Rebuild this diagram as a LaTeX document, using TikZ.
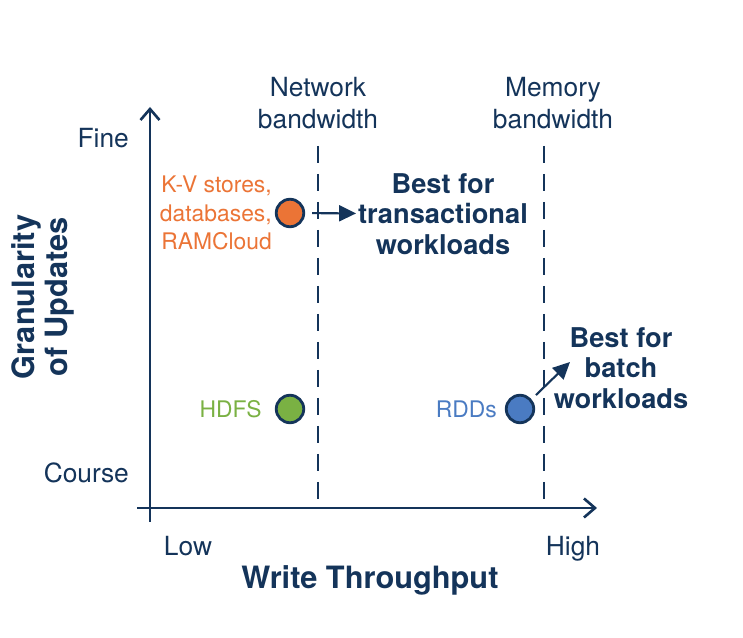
\documentclass[tikz,border=0pt]{standalone}
\usepackage{fontspec}
\setmainfont{TeX Gyre Heros}
\usetikzlibrary{arrows.meta,positioning}
\definecolor{AxisNavy}{HTML}{14345A}
\definecolor{KvOrange}{HTML}{EB7436}
\definecolor{HdfsGreen}{HTML}{7AB143}
\definecolor{RddBlue}{HTML}{4A7BC2}

\begin{document}
\begin{tikzpicture}[
        node distance=0.2cm,
        axis/.style={line width=1.5pt,draw=AxisNavy,-{Straight Barb[length=2.2mm,width=3.8mm]}},
        bound/.style={line width=1.4pt,draw=AxisNavy,dash pattern=on 3.4mm off 2.2mm},
        dot/.style={circle,draw=AxisNavy,line width=1.6pt,minimum size=0.55cm,inner sep=0pt},
        tick/.style={text=AxisNavy,font=\fontsize{15}{18}\selectfont,inner sep=1pt},
        note/.style={text=AxisNavy,font=\fontsize{15.5}{17.5}\selectfont\bfseries,align=center,inner sep=1pt},
        lbl/.style={font=\fontsize{13}{16}\selectfont,align=right,inner sep=1pt},
        callout/.style={line width=1.2pt,draw=AxisNavy,-{Triangle[length=3.4mm,width=3.2mm]}}
      ]
        \useasboundingbox (0,0) rectangle (14.86,12.76);
        % axes
        \coordinate (ybot) at (3.0,2.32);
        \coordinate (ytop) at (3.0,10.62);
        \coordinate (xleft) at (2.74,2.6);
        \coordinate (xright) at (11.94,2.6);
        \draw[axis] (ybot)--(ytop);
        \draw[axis] (xleft)--(xright);
        % bandwidth limits
        \coordinate (nettop) at (6.36,9.84);
        \coordinate (netbot) at (6.36,2.6);
        \coordinate (memtop) at (10.88,9.84);
        \coordinate (membot) at (10.88,2.6);
        \draw[bound] (nettop)--(netbot);
        \draw[bound] (memtop)--(membot);
        \node[tick,align=center] (netbw) at (6.36,10.73) {\strut Network\\bandwidth};
        \node[tick,align=center] (membw) at (11.06,10.73) {\strut Memory\\bandwidth};
        % axis labels
        \node[tick,anchor=east] (fine) at (2.62,10.0) {Fine};
        \node[tick,anchor=east] (course) at (2.62,3.3) {Course};
        \node[tick,anchor=base] (low) at (3.76,1.64) {Low};
        \node[tick,anchor=base] (high) at (11.46,1.64) {High};
        \node[text=AxisNavy,font=\fontsize{17.5}{21}\selectfont\bfseries] (wtp) at (7.4,1.16) {Write Throughput};
        \node[text=AxisNavy,font=\fontsize{17.5}{18.5}\selectfont\bfseries,align=center,rotate=90] (gran) at (0.86,6.82) {Granularity\\of Updates};
        % systems
        \node[dot,fill=KvOrange] (kv) at (5.8,8.5) {};
        \node[dot,fill=HdfsGreen] (hdfs) at (5.8,4.58) {};
        \node[dot,fill=RddBlue] (rdd) at (10.4,4.58) {};
        \node[lbl,text=KvOrange,left=0.02cm of kv] (kvlbl) {K-V stores,\\databases,\\RAMCloud};
        \node[lbl,text=HdfsGreen,left=0.22cm of hdfs] (hdfslbl) {HDFS};
        \node[lbl,text=RddBlue,left=0.12cm of rdd] (rddlbl) {RDDs};
        % callouts
        \node[note] (besttx) at (8.86,8.48) {Best for\\transactional\\workloads};
        \node[note] (bestbatch) at (12.42,5.4) {Best for\\batch\\workloads};
        \coordinate (batchtip) at (11.4,5.52);
        \draw[callout,shorten <=0.14cm] (kv)--(besttx);
        \draw[callout,shorten <=0.12cm] (rdd.40)--(batchtip);
      \end{tikzpicture}
\end{document}
